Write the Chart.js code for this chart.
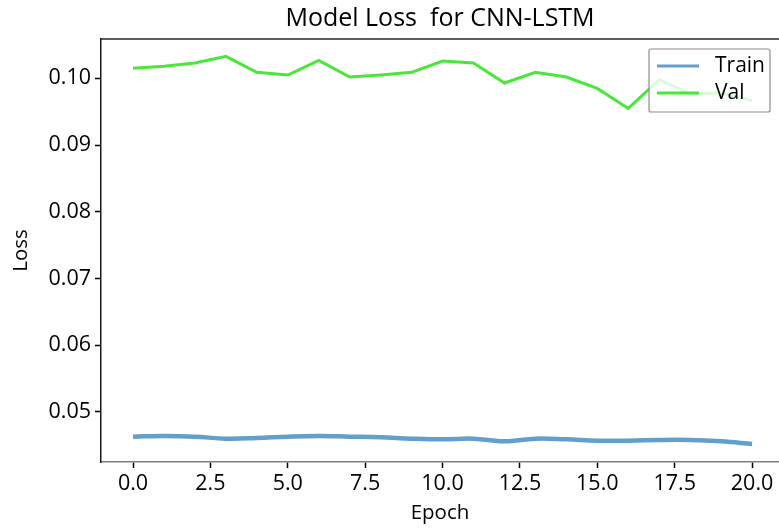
<!DOCTYPE html>
<html>
<head>
<meta charset="utf-8">
<script src="https://cdn.jsdelivr.net/npm/chart.js@4/dist/chart.umd.min.js"></script>
<style>
    html, body { margin: 0; padding: 0; background: #fff; }
    #wrap { width: 779px; height: 530px; }
</style>
</head>
<body>
<div id="wrap"><canvas id="canvas"></canvas></div>
<script>
// values
const epochs = [0, 1, 2, 3, 4, 5, 6, 7, 8, 9, 10, 11, 12, 13, 14, 15, 16, 17, 18, 19, 20];
const trainLoss = [0.0463, 0.0464, 0.0463, 0.0460, 0.0461, 0.0463, 0.0464, 0.0463, 0.0462, 0.0460, 0.0459,
                   0.0460, 0.0456, 0.0460, 0.0459, 0.0457, 0.0457, 0.0458, 0.0458, 0.0456, 0.0452];
const valLoss = [0.1015, 0.1018, 0.1023, 0.1033, 0.1009, 0.1005, 0.1027, 0.1002, 0.1005, 0.1009, 0.1026,
                 0.1023, 0.0993, 0.1009, 0.1002, 0.0985, 0.0955, 0.0998, 0.0977, 0.0978, 0.0967];
const xTicks = [0, 2.5, 5, 7.5, 10, 12.5, 15, 17.5, 20];
const yTicks = [0.05, 0.06, 0.07, 0.08, 0.09, 0.10];

const FONT = '"Open Sans", "DejaVu Sans", sans-serif';

// top spine + legend box drawn over the lines, like matplotlib does
const framePlugin = {
    id: 'frame',
    afterDatasetsDraw(chart) {
        const ctx = chart.ctx;
        const a = chart.chartArea;
        ctx.save();
        ctx.strokeStyle = '#262626';
        ctx.lineWidth = 1.5;
        ctx.beginPath();
        ctx.moveTo(a.left, a.top);
        ctx.lineTo(a.right, a.top);
        ctx.stroke();

        // legend
        const bx = 649, by = 49, bw = 121, bh = 63;
        ctx.fillStyle = 'rgba(255,255,255,0.8)';
        ctx.strokeStyle = '#8c8c8c';
        ctx.lineWidth = 1.2;
        ctx.beginPath();
        ctx.roundRect(bx, by, bw, bh, 2);
        ctx.fill();
        ctx.stroke();
        ctx.font = '21px ' + FONT;
        ctx.textBaseline = 'middle';
        ctx.fillStyle = '#000';
        chart.data.datasets.forEach((ds, i) => {
            const y = by + 17 + i * 27;
            ctx.strokeStyle = ds.borderColor;
            ctx.lineWidth = 3;
            ctx.beginPath();
            ctx.moveTo(bx + 8, y);
            ctx.lineTo(bx + 50, y);
            ctx.stroke();
            ctx.fillText(ds.label, bx + 66, y);
        });
        ctx.restore();
    }
};

new Chart(document.getElementById('canvas').getContext('2d'), {
    type: 'line',
    data: {
        datasets: [{
            label: 'Train',
            data: epochs.map((e, i) => ({ x: e, y: trainLoss[i] })),
            borderColor: '#629fca',
            borderWidth: 4.5,
            tension: 0.4,
            pointRadius: 0,
            fill: false,
        }, {
            label: 'Val',
            data: epochs.map((e, i) => ({ x: e, y: valLoss[i] })),
            borderColor: '#47e837',
            borderWidth: 3,
            tension: 0,
            pointRadius: 0,
            fill: false,
        }]
    },
    options: {
        responsive: true,
        maintainAspectRatio: false,
        animation: false,
        layout: { padding: { left: 0, right: 0, top: 0, bottom: 0 } },
        plugins: {
            legend: { display: false },
            tooltip: { enabled: false },
            title: {
                display: true,
                fullSize: false,
                text: 'Model Loss  for CNN-LSTM',
                color: '#000',
                font: { family: FONT, size: 25, weight: 'normal' },
                padding: { top: 4, bottom: 5 },
            },
        },
        scales: {
            x: {
                type: 'linear',
                min: -1.034,
                max: 20.87,
                afterBuildTicks: (scale) => { scale.ticks = xTicks.map(v => ({ value: v })); },
                afterFit: (scale) => { scale.height = 68; scale.paddingRight = 0; scale.paddingLeft = 0; },
                grid: {
                    drawOnChartArea: false,
                    drawTicks: true,
                    tickLength: 6,
                    tickColor: '#000',
                    tickWidth: 1.5,
                },
                border: { color: '#7f7f7f', width: 1.5 },
                ticks: {
                    color: '#000',
                    padding: 3,
                    maxRotation: 0,
                    font: { family: FONT, size: 21.5 },
                    callback: (v) => Number(v).toFixed(1),
                },
                title: {
                    display: true,
                    text: 'Epoch',
                    color: '#000',
                    font: { family: FONT, size: 20.5 },
                    padding: { top: 0, bottom: 5 },
                },
            },
            y: {
                min: 0.0425,
                max: 0.1059,
                afterBuildTicks: (scale) => { scale.ticks = yTicks.map(v => ({ value: v })); },
                afterFit: (scale) => { scale.width = 101; },
                grid: {
                    drawOnChartArea: false,
                    drawTicks: true,
                    tickLength: 6,
                    tickColor: '#000',
                    tickWidth: 1.5,
                },
                border: { color: '#1a1a1a', width: 1.5 },
                ticks: {
                    color: '#000',
                    padding: 4,
                    font: { family: FONT, size: 21.5 },
                    callback: (v) => Number(v).toFixed(2),
                },
                title: {
                    display: true,
                    text: 'Loss',
                    color: '#000',
                    font: { family: FONT, size: 20.5 },
                    padding: { top: 9, bottom: 2 },
                },
            },
        },
    },
    plugins: [framePlugin],
});
</script>
</body>
</html>
